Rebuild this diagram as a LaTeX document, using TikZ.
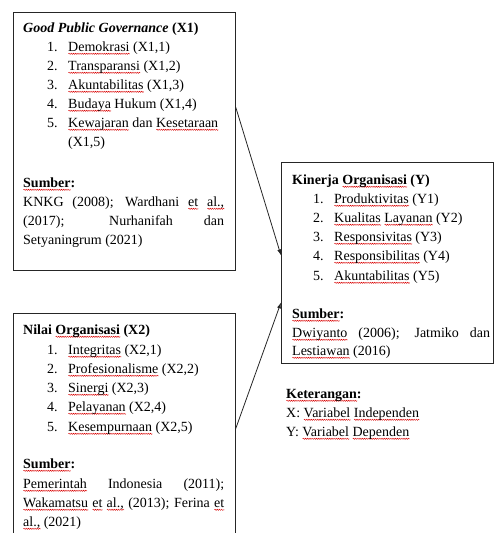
\documentclass[tikz,border=0pt]{standalone}
\usepackage{fontspec}
\setmainfont{Liberation Serif}
\usetikzlibrary{arrows.meta,decorations.pathmorphing}
\newlength\sqw
\newcommand\sq[1]{\settowidth{\sqw}{#1}\leavevmode\rlap{\tikz[x=1pt,y=1pt,baseline=0pt]{\draw[red!85!black,line width=0.45pt,decorate,decoration={snake,amplitude=0.6pt,segment length=2.2pt}] (0,-2.8) -- (\sqw,-2.8);}}#1}
\newcommand\itm[2]{\makebox[21pt][l]{#1}#2}
\tikzset{
  txt/.style={anchor=base west, inner sep=0pt, font=\fontsize{14}{19}\selectfont},
  boxx/.style={draw=black!85, line width=0.8pt, anchor=north west, inner sep=0pt},
  arr/.style={draw=black!85, line width=0.8pt, -{Latex[length=6pt,width=4pt]}}
}
\begin{document}
\begin{tikzpicture}[x=1pt,y=-1pt]
\useasboundingbox (0,0) rectangle (494,533);
\clip (0,0) rectangle (494,533);
% boxes
\node[boxx, minimum width=222pt, minimum height=258pt] (b1) at (13,12) {};
\node[boxx, minimum width=222pt, minimum height=232pt] (b2) at (13,313) {};
\node[boxx, minimum width=212pt, minimum height=201pt] (b3) at (281,162) {};
% box 1
\node[txt] (t1) at (23,32) {\textbf{\textit{Good Public Governance}} \textbf{(X1)}};
\node[txt] (t1i1) at (47,51) {\itm{1.}{\sq{Demokrasi} (X1,1)}};
\node[txt] (t1i2) at (47,70) {\itm{2.}{\sq{Transparansi} (X1,2)}};
\node[txt] (t1i3) at (47,89) {\itm{3.}{\sq{Akuntabilitas} (X1,3)}};
\node[txt] (t1i4) at (47,108) {\itm{4.}{\sq{Budaya} Hukum (X1,4)}};
\node[txt] (t1i5) at (47,127) {\itm{5.}{\sq{Kewajaran} dan \sq{Kesetaraan}}};
\node[txt] (t1i6) at (68,146) {(X1,5)};
\node[txt] (s1) at (23,187) {\textbf{\sq{Sumber}:}};
\node[txt] (s1a) at (23,206) {\makebox[201pt][s]{KNKG (2008); Wardhani \sq{et} \sq{al.,}}};
\node[txt] (s1b) at (23,225) {\makebox[201pt][s]{(2017); Nurhanifah dan}};
\node[txt] (s1c) at (23,244) {Setyaningrum (2021)};
% box 2
\node[txt] (t2) at (23,334) {\textbf{Nilai \sq{Organisasi} (X2)}};
\node[txt] (t2i1) at (47,354) {\itm{1.}{\sq{Integritas} (X2,1)}};
\node[txt] (t2i2) at (47,373) {\itm{2.}{\sq{Profesionalisme} (X2,2)}};
\node[txt] (t2i3) at (47,392) {\itm{3.}{\sq{Sinergi} (X2,3)}};
\node[txt] (t2i4) at (47,411) {\itm{4.}{\sq{Pelayanan} (X2,4)}};
\node[txt] (t2i5) at (47,431) {\itm{5.}{\sq{Kesempurnaan} (X2,5)}};
\node[txt] (s2) at (23,468) {\textbf{\sq{Sumber}:}};
\node[txt] (s2a) at (23,488) {\makebox[201pt][s]{\sq{Pemerintah} Indonesia (2011);}};
\node[txt] (s2b) at (23,507) {\makebox[201pt][s]{\sq{Wakamatsu} \sq{et} \sq{al.,} (2013); Ferina \sq{et}}};
\node[txt] (s2c) at (23,526) {\sq{al.,} (2021)};
% box 3
\node[txt] (t3) at (292,184) {\textbf{Kinerja \sq{Organisasi} (Y)}};
\node[txt] (t3i1) at (313,203) {\itm{1.}{\sq{Produktivitas} (Y1)}};
\node[txt] (t3i2) at (313,222) {\itm{2.}{\sq{Kualitas} \sq{Layanan} (Y2)}};
\node[txt] (t3i3) at (313,241) {\itm{3.}{\sq{Responsivitas} (Y3)}};
\node[txt] (t3i4) at (313,260) {\itm{4.}{\sq{Responsibilitas} (Y4)}};
\node[txt] (t3i5) at (313,280) {\itm{5.}{\sq{Akuntabilitas} (Y5)}};
\node[txt] (s3) at (292,318) {\textbf{\sq{Sumber}:}};
\node[txt] (s3a) at (292,337) {\makebox[198pt][s]{\sq{Dwiyanto} (2006); Jatmiko dan}};
\node[txt] (s3b) at (292,355) {\sq{Lestiawan} (2016)};
% legend
\node[txt] (k0) at (286,398) {\textbf{\sq{Keterangan}:}};
\node[txt] (k1) at (286,417) {X: \sq{Variabel} \sq{Independen}};
\node[txt] (k2) at (286,436) {Y: \sq{Variabel} \sq{Dependen}};
% arrows
\draw[arr] ([yshift=34pt]b1.east) -- ([yshift=7.5pt]b3.west);
\draw[arr] ([yshift=1pt]b2.east) -- ([yshift=-39.5pt]b3.west);
\end{tikzpicture}
\end{document}
